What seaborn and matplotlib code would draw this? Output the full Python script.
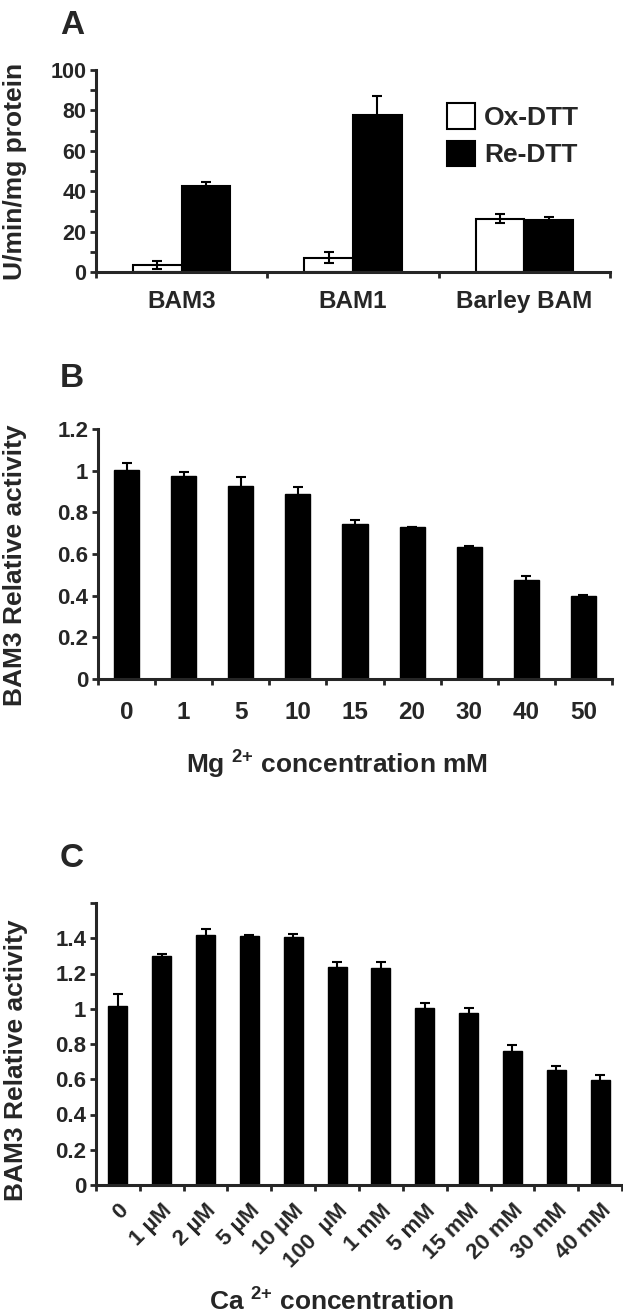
import numpy as np
import pandas as pd
import matplotlib
matplotlib.use("Agg")
import matplotlib.pyplot as plt
from matplotlib.ticker import MultipleLocator
import seaborn as sns

# ------------------------------------------------------
# Data
# ------------------------------------------------------
groups = ["BAM3", "BAM1", "Barley BAM"]
ox_dtt = [3.3, 7.1, 26.3]
ox_err = [2.0, 2.8, 2.2]
re_dtt = [42.6, 77.7, 25.6]
re_err = [2.0, 9.6, 1.5]

mg_labels = ["0", "1", "5", "10", "15", "20", "30", "40", "50"]
mg_activity = [1.005, 0.973, 0.925, 0.888, 0.744, 0.731, 0.634, 0.474, 0.397]
mg_err = [0.032, 0.019, 0.043, 0.035, 0.021, 0.0, 0.003, 0.019, 0.006]

ca_labels = ["0", "1 µM", "2 µM", "5 µM", "10 µM", "100  µM", "1 mM",
             "5 mM", "15 mM", "20 mM", "30 mM", "40 mM"]
ca_activity = [1.015, 1.30, 1.417, 1.411, 1.406, 1.236, 1.23, 1.004,
               0.975, 0.758, 0.653, 0.594]
ca_err = [0.066, 0.011, 0.034, 0.010, 0.017, 0.032, 0.038, 0.026,
          0.029, 0.034, 0.024, 0.029]

# ------------------------------------------------------
# Style
# ------------------------------------------------------
sns.set_style("ticks")
plt.rcParams["font.family"] = ["Liberation Sans", "DejaVu Sans"]
plt.rcParams["font.weight"] = "bold"
plt.rcParams["axes.labelweight"] = "bold"
plt.rcParams["mathtext.fontset"] = "custom"
plt.rcParams["mathtext.bf"] = "Liberation Sans:bold"
plt.rcParams["mathtext.rm"] = "Liberation Sans:bold"

W, H = 623, 1313
fig = plt.figure(figsize=(W / 100, H / 100), dpi=100)


def px_axes(left, top, right, bottom):
    return fig.add_axes([left / W, 1 - bottom / H, (right - left) / W, (bottom - top) / H])


def style_axes(ax, n):
    sns.despine(ax=ax)
    for s in ["left", "bottom"]:
        ax.spines[s].set_linewidth(2.2)
    ax.set_xlim(-0.5, n - 0.5)
    ax.set_xticks(np.arange(-0.5, n), minor=True)
    ax.tick_params(axis="x", which="major", length=0)
    ax.tick_params(axis="x", which="minor", length=4, width=2, direction="out")
    ax.tick_params(axis="y", which="both", length=4, width=2, direction="out", pad=3)
    ax.tick_params(axis="y", labelsize=16)
    ax.set_xlabel("")


def add_errors(ax, bars, errs):
    xs = [b.get_x() + b.get_width() / 2 for b in bars]
    ys = [b.get_height() for b in bars]
    ax.errorbar(xs, ys, yerr=errs, fmt="none", ecolor="black",
                elinewidth=1.5, capsize=3.6, capthick=1.5, zorder=3)


# ------------------------------------------------------
# Panel A
# ------------------------------------------------------
df_a = pd.DataFrame({
    "group": groups * 2,
    "value": ox_dtt + re_dtt,
    "treatment": ["Ox-DTT"] * 3 + ["Re-DTT"] * 3,
})
ax_a = px_axes(96, 70, 610, 272)
sns.barplot(data=df_a, x="group", y="value", hue="treatment",
            palette={"Ox-DTT": "white", "Re-DTT": "black"},
            edgecolor="black", linewidth=1.5, width=0.57, gap=0,
            errorbar=None, ax=ax_a)
add_errors(ax_a, ax_a.containers[0], ox_err)
add_errors(ax_a, ax_a.containers[1], re_err)
style_axes(ax_a, 3)
ax_a.set_ylim(0, 100)
ax_a.set_yticks(np.arange(0, 101, 20))
ax_a.yaxis.set_minor_locator(MultipleLocator(10))
ax_a.tick_params(axis="y", labelsize=15.5)
ax_a.tick_params(axis="x", which="major", pad=13, labelsize=17.5)
ax_a.set_ylabel("U/min/mg protein", fontsize=19)
ax_a.yaxis.set_label_coords(-0.134, 0.5)
handles, labels = ax_a.get_legend_handles_labels()
ax_a.legend(handles, labels, frameon=False, loc="upper left",
            bbox_to_anchor=(0.683, 0.835), borderaxespad=0, borderpad=0,
            fontsize=19, handlelength=1.05, handleheight=1.1,
            handletextpad=0.35, labelspacing=0.4)

# ------------------------------------------------------
# Panel B
# ------------------------------------------------------
ax_b = px_axes(98, 429, 612, 679)
sns.barplot(x=mg_labels, y=mg_activity, color="black", edgecolor="black",
            width=0.44, errorbar=None, ax=ax_b)
add_errors(ax_b, ax_b.containers[0], mg_err)
style_axes(ax_b, len(mg_labels))
ax_b.set_ylim(0, 1.2)
ax_b.set_yticks(np.arange(0, 1.21, 0.2))
ax_b.set_yticklabels(["0", "0.2", "0.4", "0.6", "0.8", "1", "1.2"])
ax_b.tick_params(axis="x", which="major", pad=16, labelsize=17.5)
ax_b.set_ylabel("BAM3 Relative activity", fontsize=19)
ax_b.yaxis.set_label_coords(-0.138, 0.456)
ax_b.set_xlabel(r"Mg $^{2{+}}$ concentration mM", fontsize=19)
ax_b.xaxis.set_label_coords(0.465, -0.272)

# ------------------------------------------------------
# Panel C
# ------------------------------------------------------
ax_c = px_axes(96, 903, 622, 1185)
sns.barplot(x=ca_labels, y=ca_activity, color="black", edgecolor="black",
            width=0.43, errorbar=None, ax=ax_c)
add_errors(ax_c, ax_c.containers[0], ca_err)
style_axes(ax_c, len(ca_labels))
ax_c.set_ylim(0, 1.6)
ax_c.set_yticks(np.arange(0, 1.61, 0.2))
ax_c.set_yticklabels(["0", "0.2", "0.4", "0.6", "0.8", "1", "1.2", "1.4", ""])
ax_c.tick_params(axis="x", which="major", pad=11, labelsize=16)
for lab in ax_c.get_xticklabels():
    lab.set_rotation(45)
    lab.set_ha("right")
    lab.set_rotation_mode("anchor")
ax_c.set_ylabel("BAM3 Relative activity", fontsize=19)
ax_c.yaxis.set_label_coords(-0.129, 0.443)
ax_c.set_xlabel(r"Ca $^{2{+}}$ concentration", fontsize=19)
ax_c.xaxis.set_label_coords(0.447, -0.362)

# panel letters
for letter, top in [("A", 10), ("B", 363), ("C", 843)]:
    fig.text(60 / W, 1 - top / H, letter, fontsize=24, fontweight="bold", va="top")

fig.savefig("out.png", dpi=100)
